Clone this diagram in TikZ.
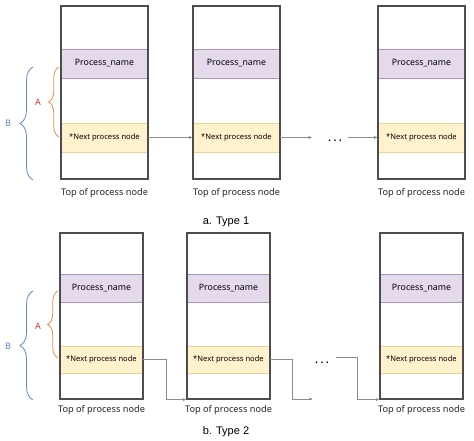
\documentclass[tikz,border=0pt]{standalone}
\usepackage{fontspec}
\setmainfont{Noto Sans}
\newfontfamily\capfont{Liberation Sans}
\usetikzlibrary{arrows.meta,decorations.pathreplacing}

\definecolor{framegray}{HTML}{4D4D4D}
\definecolor{namefill}{HTML}{E4DAEC}
\definecolor{namedraw}{HTML}{A898BC}
\definecolor{nextfill}{HTML}{FFF2CC}
\definecolor{nextdraw}{HTML}{EBD596}
\definecolor{linkgray}{HTML}{8C8C8C}
\definecolor{braceorange}{HTML}{F08A4B}
\definecolor{labelred}{HTML}{E5322D}
\definecolor{braceblue}{HTML}{5A86CF}

\tikzset{
	stackbox/.style={draw=framegray, line width=1.1pt, inner sep=0pt},
	nameband/.style={fill=namefill, draw=namedraw, line width=0.6pt, inner sep=0pt, font=\fontsize{8.8}{10}\selectfont},
	nextband/.style={fill=nextfill, draw=nextdraw, line width=0.6pt, inner sep=0pt, font=\fontsize{7.6}{9}\selectfont},
	toplbl/.style={font=\fontsize{9.2}{11}\selectfont, text=black!85},
	link/.style={draw=linkgray, line width=0.6pt, -{Latex[length=3.5pt,width=3pt,fill=black!80]}},
	dotsnode/.style={font=\fontsize{13}{13}\bfseries\selectfont, inner sep=0pt},
	bracea/.style={draw=braceorange, line width=0.8pt, decorate, decoration={brace, amplitude=10.5pt}},
	braceb/.style={draw=braceblue, line width=0.8pt, decorate, decoration={brace, amplitude=13pt}},
	caption/.style={font=\capfont\fontsize{11}{13}\selectfont},
}

\begin{document}
\begin{tikzpicture}[x=1pt, y=-1pt]
		% 0. Fix the page size (474 x 441)
		\useasboundingbox (0,0) rectangle (474,441);

		% 1. Type 1: three process stacks
		\foreach \i/\x in {1/61,2/193,3/378} {
			\node[nameband, minimum width=87pt, minimum height=29pt] (namea\i) at (\x+43.5,63.5) {Process\_name};
			\node[nextband, minimum width=87pt, minimum height=29pt] (nexta\i) at (\x+43.5,137.5) {*Next process node};
			\node[stackbox, minimum width=87pt, minimum height=173pt] (boxa\i) at (\x+43.5,92.5) {};
			\node[toplbl] (topa\i) at (\x+43.5,193) {Top of process node};
		}

		% straight links between the stacks
		\draw[link] (nexta1.east) -- (nexta2.west);
		\coordinate (enda) at (312,137.5);
		\draw[link] (nexta2.east) -- (enda);
		\node[dotsnode] (dotsa) at (335,141) {.\hspace{2pt}.\hspace{2pt}.};
		\coordinate (starta) at (348,137.5);
		\draw[link] (starta) -- (nexta3.west);

		% braces A and B
		\draw[bracea] (59,137) -- (59,67);
		\node[labelred, font=\fontsize{9}{10}\selectfont] (lblaA) at (38,102) {A};
		\draw[braceb] (33,180) -- (33,67);
		\node[braceblue, font=\fontsize{9}{10}\selectfont] (lblaB) at (8,123) {B};

		\node[caption] (capa) at (226,222) {a. Type 1};

		% 2. Type 2: three process stacks
		\foreach \i/\x in {1/60,2/187,3/380} {
			\node[nameband, minimum width=83pt, minimum height=28pt] (nameb\i) at (\x+41.5,288) {Process\_name};
			\node[nextband, minimum width=83pt, minimum height=27pt] (nextb\i) at (\x+41.5,359.5) {*Next process node};
			\node[stackbox, minimum width=83pt, minimum height=166pt] (boxb\i) at (\x+41.5,316) {};
			\node[toplbl] (topb\i) at (\x+41.5,410) {Top of process node};
		}

		% elbow links to the top of the next stack
		\draw[link] (nextb1.east) -- ++(23,0) |- (boxb2.south west);
		\coordinate (endb) at (313,399);
		\draw[link] (nextb2.east) -- ++(22,0) |- (endb);
		\node[dotsnode] (dotsb) at (322,363) {.\hspace{2pt}.\hspace{2pt}.};
		\coordinate (startb) at (336,357);
		\draw[link] (startb) -- ++(21,0) |- (boxb3.south west);

		% braces A and B
		\draw[bracea] (58,358) -- (58,291);
		\node[labelred, font=\fontsize{9}{10}\selectfont] (lblbA) at (38,326) {A};
		\draw[braceb] (33,400) -- (33,291);
		\node[braceblue, font=\fontsize{9}{10}\selectfont] (lblbB) at (8,346) {B};

		\node[caption] (capb) at (226,432) {b. Type 2};
	\end{tikzpicture}
\end{document}
